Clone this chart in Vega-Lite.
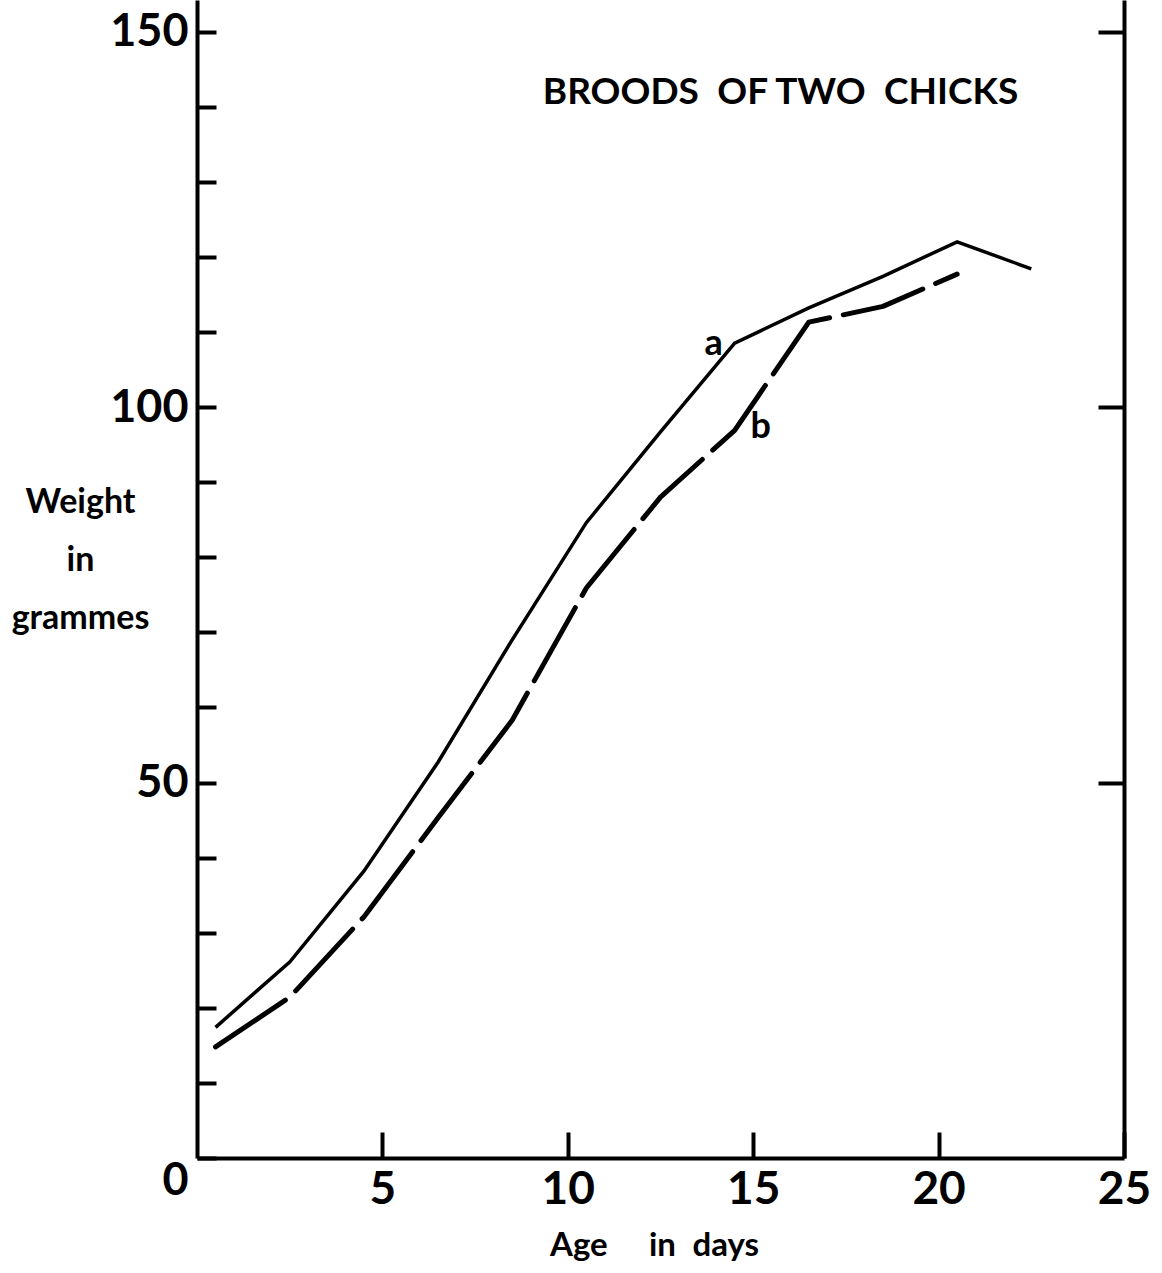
{
  "$schema": "https://vega.github.io/schema/vega-lite/v6.json",
  "width": 927,
  "height": 1158,
  "autosize": {"type": "none"},
  "padding": {"left": 197, "top": 0, "right": 38, "bottom": 115},
  "background": "white",
  "config": {
    "view": {"stroke": null},
    "font": "Lato",
    "axis": {
      "grid": false,
      "domainColor": "black",
      "domainWidth": 4,
      "tickColor": "black",
      "tickWidth": 4,
      "labelColor": "black",
      "titleColor": "black",
      "labelFont": "Lato",
      "labelFontWeight": "bold",
      "titleFont": "Lato",
      "titleFontWeight": "bold",
      "labelOverlap": false
    }
  },
  "title": {
    "text": "BROODS\u2002OF TWO\u2002CHICKS",
    "font": "Lato",
    "fontSize": 37,
    "fontWeight": "bold",
    "color": "black",
    "anchor": "middle",
    "frame": "group",
    "dx": 120,
    "offset": -130,
    "baseline": "middle"
  },
  "data": {
    "values": [
      {"brood": "a", "day": 0.5, "weight": 17.4},
      {"brood": "a", "day": 2.5, "weight": 26.1},
      {"brood": "a", "day": 4.5, "weight": 38.2},
      {"brood": "a", "day": 6.5, "weight": 52.7},
      {"brood": "a", "day": 8.5, "weight": 69.0},
      {"brood": "a", "day": 10.5, "weight": 84.6},
      {"brood": "a", "day": 12.5, "weight": 96.7},
      {"brood": "a", "day": 14.5, "weight": 108.5},
      {"brood": "a", "day": 16.5, "weight": 113.2},
      {"brood": "a", "day": 18.5, "weight": 117.4},
      {"brood": "a", "day": 20.5, "weight": 122.0},
      {"brood": "a", "day": 22.5, "weight": 118.4},
      {"brood": "b", "day": 0.5, "weight": 14.8},
      {"brood": "b", "day": 2.5, "weight": 21.4},
      {"brood": "b", "day": 4.5, "weight": 32.1},
      {"brood": "b", "day": 6.5, "weight": 45.3},
      {"brood": "b", "day": 8.5, "weight": 58.3},
      {"brood": "b", "day": 10.5, "weight": 75.9},
      {"brood": "b", "day": 12.5, "weight": 88.0},
      {"brood": "b", "day": 14.5, "weight": 96.9},
      {"brood": "b", "day": 16.5, "weight": 111.3},
      {"brood": "b", "day": 18.5, "weight": 113.4},
      {"brood": "b", "day": 20.5, "weight": 117.7}
    ]
  },
  "layer": [
    {
      "transform": [{"filter": "datum.brood === 'a'"}],
      "mark": {"type": "line", "color": "black", "strokeWidth": 3.5, "strokeJoin": "miter"},
      "encoding": {
        "x": {
          "field": "day",
          "type": "quantitative",
          "scale": {"domain": [0, 25], "nice": false},
          "axis": {
            "values": [5, 10, 15, 20, 25],
            "tickSize": -26,
            "labelFontSize": 46,
            "labelPadding": 35,
            "labelBaseline": "top",
            "labelFlush": false,
            "title": "Age\u2003\u2002in\u2002days",
            "titleFontSize": 33,
            "titleBaseline": "alphabetic",
            "titleX": 457,
            "titleY": 97
          }
        },
        "y": {
          "field": "weight",
          "type": "quantitative",
          "scale": {"domain": [0, 154.2], "nice": false},
          "axis": {
            "orient": "left",
            "values": [0, 10, 20, 30, 40, 50, 60, 70, 80, 90, 100, 110, 120, 130, 140, 150],
            "tickSize": -19,
            "labelExpr": "datum.value % 50 === 0 ? datum.label : ''",
            "labelFontSize": 45,
            "labelPadding": 28,
            "labelBaseline": {"condition": {"test": "datum.value === 0", "value": "top"}, "value": "middle"},
            "title": ["Weight", "in", "grammes"],
            "titleAngle": 0,
            "titleAlign": "center",
            "titleBaseline": "middle",
            "titleX": -117,
            "titleY": 502,
            "titleFontSize": 34,
            "titleLineHeight": 58
          }
        }
      }
    },
    {
      "transform": [{"filter": "datum.brood === 'b'"}],
      "mark": {"type": "line", "color": "black", "strokeWidth": 5, "strokeDash": [84, 14], "strokeCap": "round", "strokeJoin": "round"},
      "encoding": {
        "x": {"field": "day", "type": "quantitative"},
        "y": {
          "field": "weight",
          "type": "quantitative",
          "axis": {"orient": "right", "values": [50, 100, 150], "tickSize": -26, "labels": false, "title": null}
        }
      }
    },
    {
      "transform": [{"filter": "datum.brood === 'a' && datum.day === 14.5"}],
      "mark": {"type": "text", "font": "Lato", "fontSize": 36, "fontWeight": "bold", "color": "black", "align": "center", "baseline": "alphabetic", "dx": -21, "dy": 12},
      "encoding": {
        "x": {"field": "day", "type": "quantitative"},
        "y": {"field": "weight", "type": "quantitative", "axis": null},
        "text": {"field": "brood"}
      }
    },
    {
      "transform": [{"filter": "datum.brood === 'b' && datum.day === 14.5"}],
      "mark": {"type": "text", "font": "Lato", "fontSize": 36, "fontWeight": "bold", "color": "black", "align": "center", "baseline": "alphabetic", "dx": 26, "dy": 8},
      "encoding": {
        "x": {"field": "day", "type": "quantitative"},
        "y": {"field": "weight", "type": "quantitative", "axis": null},
        "text": {"field": "brood"}
      }
    }
  ],
  "resolve": {"scale": {"y": "shared", "x": "shared"}, "axis": {"y": "independent"}}
}
